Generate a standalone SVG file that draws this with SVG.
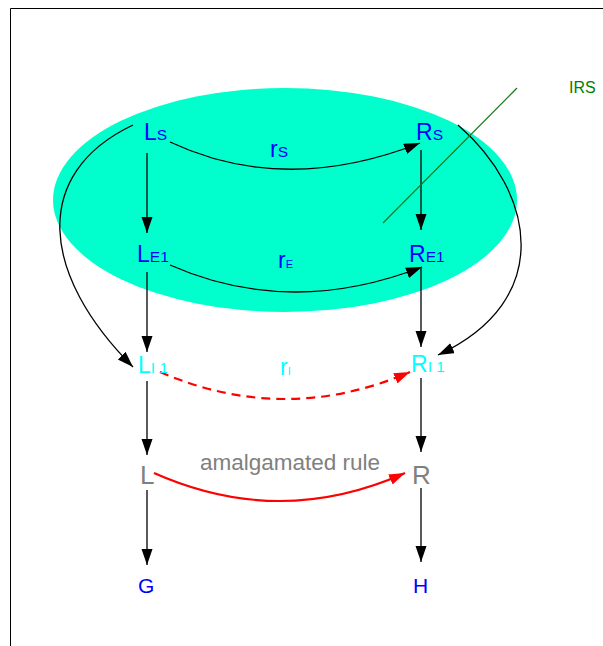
<svg xmlns="http://www.w3.org/2000/svg" width="603" height="646" viewBox="0 0 603 646">
<style>
text{font-family:"Liberation Sans",Arial,sans-serif}
.m{font-size:23px}
.s{font-size:15.5px}
.b{fill:#0000ff}
.c{fill:#00ffff}
.g{fill:#808080}
.k{fill:none;stroke:#000;stroke-width:1.3}
.r{fill:none;stroke:#ff0000;stroke-width:2.2}
</style>
<defs>
<marker id="ak" markerUnits="userSpaceOnUse" markerWidth="17" markerHeight="12" refX="16" refY="5.5" orient="auto"><path d="M0,0 L16,5.5 L0,11 z" fill="#000"/></marker>
<marker id="ar" markerUnits="userSpaceOnUse" markerWidth="17" markerHeight="12" refX="16" refY="5.5" orient="auto"><path d="M0,0 L16,5.5 L0,11 z" fill="#ff0000"/></marker>
</defs>
<rect x="0" y="0" width="603" height="646" fill="#fff"/>
<path d="M10.5,646 V8.5 H603" fill="none" stroke="#000" stroke-width="1"/>
<ellipse id="irs-region" cx="285" cy="200" rx="232" ry="112" fill="#00ffcc"/>
<g id="connectors">
<path class="k" d="M147,153 V233" marker-end="url(#ak)"/>
<path class="k" d="M147,272 V352" marker-end="url(#ak)"/>
<path class="k" d="M147,381 V455" marker-end="url(#ak)"/>
<path class="k" d="M147,490 V565" marker-end="url(#ak)"/>
<path class="k" d="M421,150 V230" marker-end="url(#ak)"/>
<path class="k" d="M421,268 V347" marker-end="url(#ak)"/>
<path class="k" d="M421,378 V452" marker-end="url(#ak)"/>
<path class="k" d="M421,488 V562" marker-end="url(#ak)"/>
<path class="k" d="M170,142 Q285,196 420,143" marker-end="url(#ak)"/>
<path class="k" d="M170,265 Q290,318 422,267" marker-end="url(#ak)"/>
<path class="r" stroke-dasharray="9,6" d="M160,372 Q285,426 410,372" marker-end="url(#ar)"/>
<path class="r" d="M154,473 Q280,529 405,473" marker-end="url(#ar)"/>
<path class="k" d="M133,125 C30,174 41,275 133,367" marker-end="url(#ak)"/>
<path class="k" d="M458,125 C535,192 556,300 438,355" marker-end="url(#ak)"/>
<path d="M517,88 L383,223" fill="none" stroke="#1f7a1f" stroke-width="1.3"/>
</g>
<g id="node-Ls"><text x="144" y="140" class="m b">L<tspan class="s">S</tspan></text></g>
<g id="node-Rs"><text x="416" y="140" class="m b">R<tspan class="s">S</tspan></text></g>
<g id="label-rs"><text x="270" y="157" class="m b">r<tspan class="s">S</tspan></text></g>
<g id="node-LE1"><text x="137" y="262" class="m b">L<tspan class="s">E1</tspan></text></g>
<g id="node-RE1"><text x="409" y="262" class="m b">R<tspan class="s">E1</tspan></text></g>
<g id="label-rE"><text x="278" y="268" class="m b">r<tspan style="font-size:11px">E</tspan></text></g>
<g id="node-LI1"><text x="138" y="373" class="m c">L<tspan class="s">I 1</tspan></text></g>
<g id="node-RI1"><text x="411" y="372" class="m c">R<tspan class="s">I 1</tspan></text></g>
<g id="label-rI"><text x="280" y="375" class="m c">r<tspan style="font-size:11px">I</tspan></text></g>
<g id="node-L"><text x="140" y="484" class="g" font-size="26">L</text></g>
<g id="node-R"><text x="412" y="484" class="g" font-size="26">R</text></g>
<g id="label-amalgamated"><text x="200" y="470" class="g" font-size="22.5">amalgamated rule</text></g>
<g id="node-G"><text x="138" y="593" class="b" font-size="21">G</text></g>
<g id="node-H"><text x="413" y="593" class="b" font-size="21">H</text></g>
<g id="label-IRS"><text x="569" y="93" font-size="16" fill="#008000">IRS</text></g>
</svg>
